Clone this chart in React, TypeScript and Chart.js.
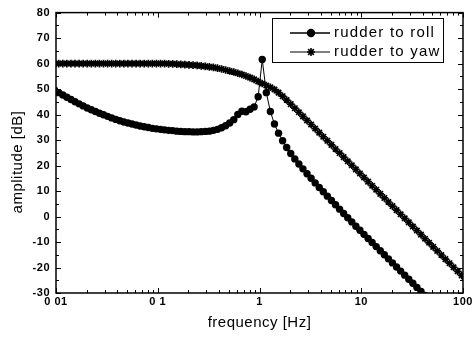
import React, { useEffect, useRef } from "react";
import { Chart, registerables } from "chart.js";

Chart.register(...registerables);

// frequency grid of the plotted markers [Hz]
const FREQ = [
  0.009705,
  0.01064, 0.01167, 0.01279, 0.01403, 0.01538, 0.01687, 0.01849, 0.02028, 0.02223, 0.02438, 0.02673, 0.02931, 0.03214,
  0.03524, 0.03864, 0.04236, 0.04645, 0.05093, 0.05585, 0.06124, 0.06714, 0.07362, 0.08072, 0.08851, 0.09705,
  0.1064, 0.1167, 0.1279, 0.1403, 0.1538, 0.1687, 0.1849, 0.2028, 0.2223, 0.2438, 0.2673, 0.2931, 0.3214,
  0.3524, 0.3864, 0.4236, 0.4645, 0.5093, 0.5585, 0.6124, 0.6714, 0.7362, 0.8072, 0.8851, 0.9705,
  1.064, 1.167, 1.279, 1.403, 1.538, 1.687, 1.849, 2.028, 2.223, 2.438, 2.673, 2.931, 3.214,
  3.524, 3.864, 4.236, 4.645, 5.093, 5.585, 6.124, 6.714, 7.362, 8.072, 8.851, 9.705,
  10.64, 11.67, 12.79, 14.03, 15.38, 16.87, 18.49, 20.28, 22.23, 24.38, 26.73, 29.31, 32.14,
  35.24, 38.64, 42.36, 46.45, 50.93, 55.85, 61.24, 67.14, 73.62, 80.72, 88.51, 97.05,
  106.4,
];

// rudder to roll amplitude [dB]
const ROLL = [
  49.6,
  48.6, 47.7, 46.8, 45.9, 45.0, 44.2, 43.4, 42.6, 41.9, 41.2, 40.5, 39.9, 39.3,
  38.7, 38.1, 37.6, 37.1, 36.7, 36.3, 35.9, 35.5, 35.2, 34.9, 34.6, 34.4,
  34.2, 34.0, 33.8, 33.7, 33.5, 33.4, 33.3, 33.3, 33.2, 33.2, 33.3, 33.4, 33.5,
  33.8, 34.2, 34.8, 35.6, 36.7, 38.0, 40.0, 41.3, 41.1, 42.1, 43.0, 47.0,
  61.6, 48.6, 41.2, 36.3, 32.7, 29.7, 27.1, 24.7, 22.6, 20.6, 18.7, 16.8, 15.0,
  13.2, 11.4, 9.7, 8.0, 6.3, 4.6, 2.9, 1.2, -0.5, -2.1, -3.8, -5.4,
  -7.0, -8.6, -10.2, -11.8, -13.4, -15.0, -16.6, -18.2, -19.8, -21.4, -23.0, -24.6, -26.2,
  -27.8, -29.4, -31.0, -32.6, null, null, null, null, null, null, null, null,
  null,
];

// rudder to yaw amplitude [dB]
const YAW = [
  60.0,
  60.0, 60.0, 60.0, 60.0, 60.0, 60.0, 60.0, 60.0, 60.0, 60.0, 60.0, 60.0, 60.0,
  60.0, 60.0, 60.0, 60.0, 60.0, 60.0, 60.0, 60.0, 60.0, 60.0, 60.0, 60.0,
  60.0, 60.0, 59.9, 59.9, 59.8, 59.7, 59.6, 59.5, 59.4, 59.3, 59.1, 58.9, 58.7,
  58.5, 58.2, 57.9, 57.5, 57.1, 56.7, 56.2, 55.7, 55.1, 54.5, 53.8, 53.0,
  52.2, 51.4, 50.7, 49.8, 48.6, 47.2, 45.7, 44.1, 42.5, 40.9, 39.3, 37.7, 36.1,
  34.5, 32.9, 31.3, 29.7, 28.1, 26.5, 24.9, 23.3, 21.7, 20.1, 18.5, 16.9,
  15.3, 13.7, 12.1, 10.5, 8.9, 7.3, 5.7, 4.1, 2.5, 0.9, -0.7, -2.3, -3.9,
  -5.5, -7.1, -8.7, -10.3, -11.9, -13.5, -15.1, -16.7, -18.3, -19.9, -21.5, -23.1,
  -24.7,
];

const SERIES_NAMES = ["rudder to roll", "rudder to yaw"];
const X_TICK_VALUES = [0.01, 0.1, 1, 10, 100];
const X_TICK_LABELS = ["0 01", "0 1", "1", "10", "100"];
const Y_MIN = -30;
const Y_MAX = 80;
const Y_STEP = 10;
const X_TITLE = "frequency [Hz]";
const Y_TITLE = "amplitude [dB]";

const FONT = "'Liberation Sans', Arial, Helvetica, sans-serif";

function drawStar(ctx: CanvasRenderingContext2D, x: number, y: number, r: number) {
  ctx.beginPath();
  for (let i = 0; i < 4; i++) {
    const a = (i * Math.PI) / 4;
    ctx.moveTo(x - Math.cos(a) * r, y - Math.sin(a) * r);
    ctx.lineTo(x + Math.cos(a) * r, y + Math.sin(a) * r);
  }
  ctx.stroke();
}

const spacingPlugin = {
  id: "spacing",
  beforeDraw(chart: any) {
    (chart.ctx as any).letterSpacing = "0.5px";
  },
  afterDatasetsDraw(chart: any) {
    (chart.ctx as any).letterSpacing = "0px";
  },
};

const framePlugin = {
  id: "frameTicks",
  afterDatasetsDraw(chart: any) {
    const { ctx, chartArea } = chart;
    const { left, right, top, bottom } = chartArea;
    const xs = chart.scales.x;
    const ys = chart.scales.y;
    ctx.save();
    ctx.strokeStyle = "#000";
    ctx.lineWidth = 1;
    ctx.beginPath();
    // x ticks, bottom and top, pointing inwards
    for (let d = 0; d < X_TICK_VALUES.length; d++) {
      const base = X_TICK_VALUES[d];
      for (let m = 1; m < 10; m++) {
        const v = base * m;
        if (v > X_TICK_VALUES[X_TICK_VALUES.length - 1] + 1e-9) break;
        const px = Math.round(xs.getPixelForValue(v)) + 0.5;
        const len = m === 1 ? 5 : 3;
        ctx.moveTo(px, bottom);
        ctx.lineTo(px, bottom - len);
        ctx.moveTo(px, top);
        ctx.lineTo(px, top + len);
      }
    }
    // y ticks, left and right
    for (let v = Y_MIN; v <= Y_MAX; v += Y_STEP / 2) {
      const py = Math.round(ys.getPixelForValue(v)) + 0.5;
      const len = v % Y_STEP === 0 ? 5 : 3;
      ctx.moveTo(left, py);
      ctx.lineTo(left + len, py);
      ctx.moveTo(right, py);
      ctx.lineTo(right - len, py);
    }
    ctx.stroke();
    ctx.lineWidth = 1.5;
    ctx.strokeRect(left, top, right - left, bottom - top);

    // y axis title
    ctx.save();
    ctx.translate(18, 162);
    ctx.rotate(-Math.PI / 2);
    ctx.font = `15px ${FONT}`;
    (ctx as any).letterSpacing = "0.5px";
    ctx.textAlign = "center";
    ctx.textBaseline = "middle";
    ctx.fillStyle = "#000";
    ctx.fillText(Y_TITLE, 0, 0);
    ctx.restore();

    // legend
    const bx = 272, by = 18, bw = 171, bh = 44;
    ctx.fillStyle = "#fff";
    ctx.fillRect(bx, by, bw, bh);
    ctx.lineWidth = 1;
    ctx.strokeRect(bx + 0.5, by + 0.5, bw, bh);
    const rows = [33, 52];
    ctx.fillStyle = "#000";
    ctx.strokeStyle = "#000";
    for (let i = 0; i < 2; i++) {
      const yy = rows[i];
      ctx.beginPath();
      ctx.lineWidth = i === 0 ? 1.5 : 1;
      ctx.moveTo(290, yy);
      ctx.lineTo(330, yy);
      ctx.stroke();
      if (i === 0) {
        ctx.beginPath();
        ctx.arc(311, yy, 4.2, 0, Math.PI * 2);
        ctx.fill();
      } else {
        ctx.lineWidth = 1.6;
        drawStar(ctx, 311, yy, 4);
      }
      ctx.font = `15px ${FONT}`;
      (ctx as any).letterSpacing = "1.2px";
      ctx.textBaseline = "middle";
      ctx.textAlign = "left";
      ctx.fillText(SERIES_NAMES[i], 334, yy);
      (ctx as any).letterSpacing = "0px";
    }
    ctx.restore();
  },
};

export default function App() {
  const ref = useRef<HTMLCanvasElement | null>(null);

  useEffect(() => {
    const canvas = ref.current;
    if (!canvas) return;
    const rollPts = FREQ.map((f, i) => ({ x: f, y: ROLL[i] }));
    const yawPts = FREQ.map((f, i) => ({ x: f, y: YAW[i] }));

    const chart = new Chart(canvas, {
      type: "line",
      data: {
        datasets: [
          {
            label: SERIES_NAMES[0],
            data: rollPts as any,
            borderColor: "#000",
            backgroundColor: "#000",
            borderWidth: 1,
            pointStyle: "circle",
            pointRadius: 3.7,
            pointBorderWidth: 0,
            pointBackgroundColor: "#000",
            spanGaps: false,
            tension: 0,
          },
          {
            label: SERIES_NAMES[1],
            data: yawPts as any,
            borderColor: "#000",
            backgroundColor: "#000",
            borderWidth: 1,
            pointStyle: "star",
            pointRadius: 3.8,
            pointBorderWidth: 1.7,
            pointBorderColor: "#000",
            tension: 0,
          },
        ],
      },
      options: {
        animation: false,
        responsive: false,
        devicePixelRatio: 1,
        layout: { padding: { left: 0, right: 12, top: 10, bottom: 0 } },
        plugins: {
          legend: { display: false },
          tooltip: { enabled: false },
        },
        scales: {
          x: {
            type: "logarithmic",
            min: 0.01,
            max: 100,
            grid: { display: false, drawTicks: false },
            border: { display: false },
            afterBuildTicks: (scale: any) => {
              scale.ticks = X_TICK_VALUES.map((v) => ({ value: v }));
            },
            afterFit: (scale: any) => {
              scale.height = 45;
            },
            ticks: {
              autoSkip: false,
              maxRotation: 0,
              padding: 2,
              color: "#000",
              font: { family: FONT, size: 11, weight: "bold" },
              callback: (v: any) => {
                const i = X_TICK_VALUES.findIndex((t) => Math.abs(t - Number(v)) < 1e-9);
                return i >= 0 ? X_TICK_LABELS[i] : "";
              },
            },
            title: {
              display: true,
              text: X_TITLE,
              color: "#000",
              font: { family: FONT, size: 15 },
              padding: { top: 6, bottom: 6 },
            },
          },
          y: {
            min: Y_MIN,
            max: Y_MAX,
            grid: { display: false, drawTicks: false },
            border: { display: false },
            afterFit: (scale: any) => {
              scale.width = 56;
            },
            ticks: {
              stepSize: Y_STEP,
              padding: 6,
              color: "#000",
              font: { family: FONT, size: 11, weight: "bold" },
            },
            title: { display: false, text: Y_TITLE },
          },
        },
      },
      plugins: [spacingPlugin, framePlugin],
    });
    return () => chart.destroy();
  }, []);

  return (
    <div style={{ position: "fixed", left: 0, top: 0, width: 475, height: 338, background: "#fff" }}>
      <canvas ref={ref} width={475} height={338} style={{ width: 475, height: 338, display: "block" }} />
    </div>
  );
}
